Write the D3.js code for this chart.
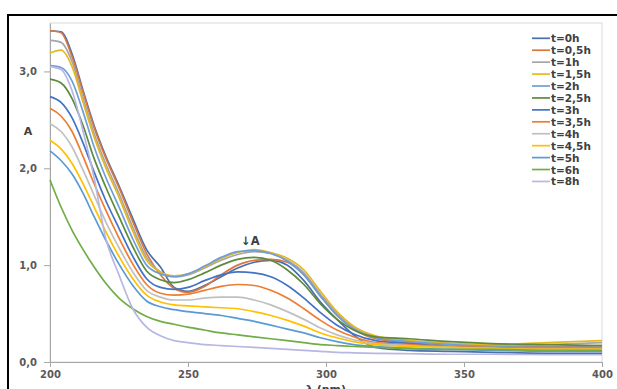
<!DOCTYPE html>
<html>
<head>
<meta charset="utf-8">
<script src="https://cdn.jsdelivr.net/npm/d3@7"></script>
<style>
  html, body { margin: 0; padding: 0; background: #fff; }
  svg { display: block; font-family: "DejaVu Sans", Verdana, sans-serif; }
</style>
</head>
<body>
<div id="chart"></div>
<script>
var wavelengths = [200, 204, 208, 212, 216, 220, 225, 230, 235, 240, 245, 250, 256, 262, 268, 274, 280, 286, 292, 298, 304, 310, 318, 330, 345, 360, 380, 400];

var t0h  = [3.42, 3.41, 3.18, 2.80, 2.44, 2.14, 1.82, 1.48, 1.16, 0.98, 0.77, 0.73, 0.79, 0.88, 0.97, 1.03, 1.05, 1.00, 0.84, 0.62, 0.44, 0.28, 0.15, 0.12, 0.11, 0.10, 0.09, 0.09];
var t05h = [3.42, 3.40, 3.15, 2.78, 2.42, 2.12, 1.80, 1.45, 1.12, 0.90, 0.76, 0.72, 0.78, 0.90, 1.00, 1.05, 1.06, 1.03, 0.90, 0.68, 0.48, 0.34, 0.24, 0.20, 0.18, 0.16, 0.16, 0.17];
var t1h  = [3.32, 3.30, 3.10, 2.72, 2.36, 2.06, 1.74, 1.39, 1.08, 0.93, 0.88, 0.90, 0.97, 1.05, 1.11, 1.14, 1.12, 1.05, 0.92, 0.70, 0.50, 0.36, 0.26, 0.22, 0.19, 0.17, 0.18, 0.20];
var t15h = [3.19, 3.22, 3.05, 2.68, 2.32, 2.02, 1.70, 1.35, 1.05, 0.93, 0.89, 0.91, 0.98, 1.07, 1.13, 1.16, 1.13, 1.07, 0.95, 0.73, 0.52, 0.37, 0.27, 0.22, 0.19, 0.18, 0.20, 0.22];
var t2h  = [3.06, 3.04, 2.90, 2.58, 2.22, 1.92, 1.60, 1.27, 1.00, 0.91, 0.88, 0.91, 0.99, 1.08, 1.14, 1.15, 1.12, 1.04, 0.90, 0.68, 0.48, 0.34, 0.25, 0.21, 0.18, 0.16, 0.15, 0.15];
var t25h = [2.92, 2.88, 2.72, 2.44, 2.10, 1.82, 1.50, 1.19, 0.94, 0.85, 0.82, 0.85, 0.92, 1.00, 1.06, 1.08, 1.05, 0.95, 0.80, 0.60, 0.44, 0.33, 0.26, 0.24, 0.21, 0.19, 0.18, 0.17];
var t3h  = [2.74, 2.68, 2.52, 2.26, 1.96, 1.68, 1.38, 1.09, 0.86, 0.77, 0.75, 0.77, 0.84, 0.90, 0.93, 0.92, 0.88, 0.79, 0.66, 0.51, 0.38, 0.29, 0.22, 0.19, 0.16, 0.14, 0.13, 0.12];
var t35h = [2.62, 2.54, 2.38, 2.12, 1.84, 1.58, 1.28, 1.01, 0.80, 0.71, 0.69, 0.70, 0.74, 0.78, 0.80, 0.79, 0.74, 0.66, 0.55, 0.43, 0.33, 0.26, 0.20, 0.18, 0.16, 0.15, 0.14, 0.14];
var t4h  = [2.46, 2.38, 2.22, 1.98, 1.72, 1.46, 1.18, 0.93, 0.74, 0.67, 0.64, 0.64, 0.66, 0.67, 0.67, 0.64, 0.59, 0.52, 0.44, 0.35, 0.28, 0.23, 0.19, 0.17, 0.15, 0.14, 0.13, 0.13];
var t45h = [2.29, 2.20, 2.05, 1.84, 1.60, 1.36, 1.09, 0.86, 0.69, 0.62, 0.59, 0.58, 0.57, 0.56, 0.55, 0.52, 0.48, 0.43, 0.37, 0.30, 0.25, 0.21, 0.18, 0.16, 0.15, 0.14, 0.13, 0.13];
var t5h  = [2.18, 2.08, 1.94, 1.74, 1.50, 1.27, 1.01, 0.79, 0.63, 0.57, 0.54, 0.52, 0.50, 0.48, 0.45, 0.42, 0.38, 0.34, 0.30, 0.25, 0.21, 0.18, 0.16, 0.14, 0.13, 0.12, 0.11, 0.11];
var t6h  = [1.88, 1.60, 1.36, 1.16, 0.98, 0.82, 0.66, 0.55, 0.47, 0.42, 0.39, 0.36, 0.33, 0.30, 0.28, 0.26, 0.24, 0.22, 0.20, 0.18, 0.17, 0.16, 0.15, 0.14, 0.13, 0.13, 0.12, 0.12];
var t8h  = [3.05, 3.02, 2.80, 2.38, 1.90, 1.30, 0.90, 0.55, 0.36, 0.27, 0.22, 0.20, 0.18, 0.17, 0.16, 0.15, 0.14, 0.13, 0.12, 0.11, 0.10, 0.095, 0.09, 0.085, 0.08, 0.08, 0.075, 0.075];

var seriesNames = ["t=0h", "t=0,5h", "t=1h", "t=1,5h", "t=2h", "t=2,5h", "t=3h", "t=3,5h", "t=4h", "t=4,5h", "t=5h", "t=6h", "t=8h"];
var seriesValues = [t0h, t05h, t1h, t15h, t2h, t25h, t3h, t35h, t4h, t45h, t5h, t6h, t8h];
var colors = ["#4a6fb0", "#d9773f", "#a6a6a6", "#e6b820", "#6f9fd8", "#5d8a3c", "#4472c4", "#ed7d31", "#c0c0c0", "#ffc000", "#5b9bd5", "#70ad47", "#b7b7e4"];

var xTicks = [200, 250, 300, 350, 400];
var yTicks = [0, 1, 2, 3];

var W = 617, H = 389;
var plot = {left: 50, top: 23, right: 602, bottom: 362};

var svg = d3.select("#chart").append("svg").attr("width", W).attr("height", H);

// outer frame (cut by the image edge on right and bottom)
svg.append("rect")
  .attr("x", 8).attr("y", 15).attr("width", 700).attr("height", 500)
  .attr("fill", "none").attr("stroke", "#000").attr("stroke-width", 2);

var x = d3.scaleLinear().domain([200, 400]).range([plot.left, plot.right]);
var y = d3.scaleLinear().domain([0, 3.5]).range([plot.bottom, plot.top]);

// plot area border
svg.append("rect")
  .attr("x", plot.left).attr("y", plot.top)
  .attr("width", plot.right - plot.left).attr("height", plot.bottom - plot.top)
  .attr("fill", "none").attr("stroke", "#d9d9d9").attr("stroke-width", 1);

var fmt = function(d) { return d3.format(".1f")(d).replace(".", ","); };

var gx = svg.append("g").attr("transform", "translate(0," + plot.bottom + ")")
  .call(d3.axisBottom(x).tickValues(xTicks).tickSize(5).tickSizeOuter(0).tickPadding(4));
var gy = svg.append("g").attr("transform", "translate(" + plot.left + ",0)")
  .call(d3.axisLeft(y).tickValues(yTicks).tickFormat(fmt).tickSize(6).tickSizeOuter(0).tickPadding(7));

[gx, gy].forEach(function(g) {
  g.select(".domain").attr("stroke", "#a6a6a6");
  g.selectAll(".tick line").attr("stroke", "#a6a6a6");
  g.selectAll(".tick text")
    .attr("fill", "#595959")
    .style("font-family", "'DejaVu Sans', Verdana, sans-serif")
    .style("font-weight", "bold")
    .style("font-size", "10px");
});

var line = d3.line()
  .x(function(d) { return x(d[0]); })
  .y(function(d) { return y(d[1]); })
  .curve(d3.curveMonotoneX);

svg.append("g").selectAll("path")
  .data(seriesValues)
  .enter().append("path")
  .attr("fill", "none")
  .attr("stroke", function(d, i) { return colors[i]; })
  .attr("stroke-width", 1.7)
  .attr("stroke-linejoin", "round")
  .attr("d", function(vals) {
    return line(wavelengths.map(function(w, j) { return [w, vals[j]]; }));
  });

// axis titles
svg.append("text").attr("x", 28).attr("y", 135)
  .attr("text-anchor", "middle").attr("fill", "#404040")
  .style("font-size", "11px").style("font-weight", "bold").text("A");
svg.append("text").attr("x", (plot.left + plot.right) / 2).attr("y", 393)
  .attr("text-anchor", "middle").attr("fill", "#404040")
  .style("font-size", "11px").style("font-weight", "bold").text("λ (nm)");

// peak annotation
svg.append("text").attr("x", 241).attr("y", 245)
  .attr("fill", "#404040").style("font-size", "11.5px").style("font-weight", "bold").text("↓A");

// legend
var legend = svg.append("g").selectAll("g")
  .data(seriesNames)
  .enter().append("g")
  .attr("transform", function(d, i) { return "translate(532," + (38.3 + i * 11.93) + ")"; });
legend.append("line")
  .attr("x1", 0).attr("x2", 18).attr("y1", 0).attr("y2", 0)
  .attr("stroke", function(d, i) { return colors[i]; })
  .attr("stroke-width", 1.7);
legend.append("text")
  .attr("x", 19).attr("y", 4)
  .attr("fill", "#404040")
  .style("font-size", "10.5px")
  .style("font-weight", "bold")
  .text(function(d) { return d; });
</script>
</body>
</html>
